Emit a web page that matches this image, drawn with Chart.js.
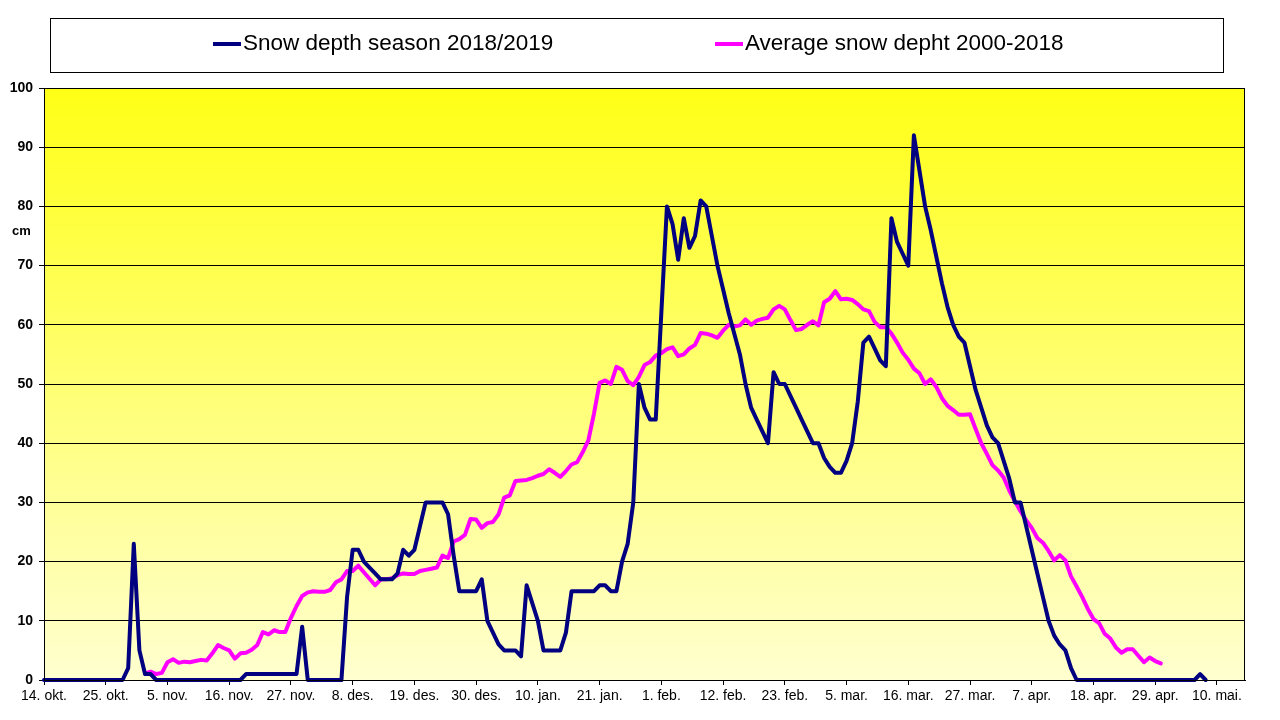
<!DOCTYPE html>
<html>
<head>
<meta charset="utf-8">
<title>Snow depth 2018/2019</title>
<script src="https://cdn.jsdelivr.net/npm/chart.js@4.4.1/dist/chart.umd.min.js"></script>
<style>
  html, body { margin: 0; padding: 0; background: #fff; }
  #snowChart { display: block; }
</style>
</head>
<body>
<canvas id="snowChart" width="1280" height="720"></canvas>
<script>
/*
  Snow depth season 2018/2019 vs. average 2000-2018.
  One value per day, day 0 = 14. okt. (leap-year calendar, ticks every 11 days).
*/
const tickLabels = [
  "14. okt.", "25. okt.", "5. nov.", "16. nov.", "27. nov.", "8. des.", "19. des.",
  "30. des.", "10. jan.", "21. jan.", "1. feb.", "12. feb.", "23. feb.", "5. mar.",
  "16. mar.", "27. mar.", "7. apr.", "18. apr.", "29. apr.", "10. mai.",
];
const tickEvery = 11;
const lastDay = 214;

const seriesLabels = ["Snow depth season 2018/2019", "Average snow depht 2000-2018"];

// cm, from 14. okt.
const snowDepth2019 = [
  0, 0, 0, 0, 0, 0, 0, 0, 0, 0,
  0, 0, 0, 0, 0, 2, 23, 5, 1, 1,
  0, 0, 0, 0, 0, 0, 0, 0, 0, 0,
  0, 0, 0, 0, 0, 0, 1, 1, 1, 1,
  1, 1, 1, 1, 1, 1, 9, 0, 0, 0,
  0, 0, 0, 0, 14, 22, 22, 20, 19, 18,
  17, 17, 17, 18, 22, 21, 22, 26, 30, 30,
  30, 30, 28, 21, 15, 15, 15, 15, 17, 10,
  8, 6, 5, 5, 5, 4, 16, 13, 10, 5,
  5, 5, 5, 8, 15, 15, 15, 15, 15, 16,
  16, 15, 15, 20, 23, 30, 50, 46, 44, 44,
  62, 80, 77, 71, 78, 73, 75, 81, 80, 75,
  70, 66, 62, 58.5, 55, 50, 46, 44, 42, 40,
  52, 50, 50, 48, 46, 44, 42, 40, 40, 37.5,
  36, 35, 35, 37, 40, 47, 57, 58, 56, 54,
  53, 78, 74, 72, 70, 92, 86, 80, 76, 71.5,
  67, 63, 60, 58, 57, 53, 49, 46, 43, 41,
  40, 37, 34, 30, 30, 26, 22, 18, 14, 10,
  7.5, 6, 5, 2, 0, 0, 0, 0, 0, 0,
  0, 0, 0, 0, 0, 0, 0, 0, 0, 0,
  0, 0, 0, 0, 0, 0, 1, 0,
];

// cm, average series starts on day 18 (1. nov.)
const averageStartDay = 18;
const averageDepth = [
  1.1, 1.4, 1.0, 1.2, 3.0, 3.5, 2.9, 3.1, 3.0, 3.2,
  3.4, 3.3, 4.5, 5.9, 5.4, 5.0, 3.6, 4.5, 4.6, 5.1,
  5.9, 8.1, 7.7, 8.4, 8.1, 8.1, 10.5, 12.5, 14.2, 14.8,
  15, 14.9, 14.9, 15.2, 16.5, 17, 18.4, 18.4, 19.3, 18.2,
  17.1, 16, 17, 17, 17.2, 17.7, 18, 17.9, 17.9, 18.4,
  18.6, 18.8, 19, 21, 20.6, 23.4, 23.8, 24.5, 27.2, 27.1,
  25.7, 26.5, 26.7, 28, 30.8, 31.2, 33.6, 33.7, 33.8, 34.1,
  34.5, 34.8, 35.6, 35, 34.3, 35.3, 36.4, 36.8, 38.5, 40.5,
  45, 50.2, 50.6, 50, 52.9, 52.4, 50.5, 49.8, 51.2, 53.2,
  53.7, 54.8, 55.2, 55.9, 56.2, 54.7, 55, 56, 56.6, 58.6,
  58.5, 58.2, 57.8, 59, 60, 59.7, 59.9, 60.9, 60, 60.7,
  61, 61.2, 62.6, 63.2, 62.6, 60.8, 59.1, 59.3, 60, 60.6,
  59.9, 63.8, 64.4, 65.7, 64.3, 64.4, 64.2, 63.5, 62.6, 62.3,
  60.5, 59.6, 59.6, 58.5, 57, 55.3, 54.1, 52.6, 51.8, 50,
  50.8, 49.5, 47.6, 46.3, 45.6, 44.8, 44.8, 44.9, 42.4, 40,
  38.2, 36.3, 35.4, 34.2, 32, 30.2, 28.5, 27, 25.7, 24,
  23.2, 21.8, 20.2, 21.1, 20.2, 17.5, 15.8, 14, 12, 10.3,
  9.6, 7.8, 7, 5.5, 4.6, 5.2, 5.2, 4.1, 3, 3.8,
  3.2, 2.8,
];

const FONT = "'Liberation Sans', Arial, sans-serif";

// Yellow gradient behind the plot plus the black frame around it.
const plotBackground = {
  id: "plotBackground",
  beforeDraw(chart) {
    const { ctx, chartArea: a } = chart;
    const g = ctx.createLinearGradient(0, a.top, 0, a.bottom);
    g.addColorStop(0, "rgb(255,255,22)");
    g.addColorStop(1, "rgb(255,255,208)");
    ctx.save();
    ctx.fillStyle = g;
    ctx.fillRect(a.left, a.top, a.right - a.left, a.bottom - a.top);
    ctx.restore();
  },
  afterDraw(chart) {
    const { ctx, chartArea: a } = chart;
    ctx.save();
    ctx.strokeStyle = "#000";
    ctx.lineWidth = 1;
    ctx.strokeRect(a.left + 0.5, a.top + 0.5, a.right - a.left - 1, a.bottom - a.top);
    // axis unit
    ctx.fillStyle = "#000";
    ctx.font = `bold 13px ${FONT}`;
    ctx.textBaseline = "middle";
    ctx.fillText("cm", 12, 231);
    ctx.restore();
  },
};

// Boxed legend across the top, like the spreadsheet original.
const boxLegend = {
  id: "boxLegend",
  afterDraw(chart) {
    const { ctx } = chart;
    const itemX = [213, 715];
    ctx.save();
    ctx.fillStyle = "#fff";
    ctx.fillRect(50, 18, 1173, 54);
    ctx.strokeStyle = "#000";
    ctx.lineWidth = 1;
    ctx.strokeRect(50.5, 18.5, 1173, 54);
    ctx.font = `22.5px ${FONT}`;
    ctx.textBaseline = "middle";
    chart.data.datasets.forEach((ds, i) => {
      ctx.strokeStyle = ds.borderColor;
      ctx.lineWidth = 4;
      ctx.beginPath();
      ctx.moveTo(itemX[i], 44);
      ctx.lineTo(itemX[i] + 28, 44);
      ctx.stroke();
      ctx.fillStyle = "#000";
      ctx.fillText(ds.label, itemX[i] + 30, 44);
    });
    ctx.restore();
  },
};

new Chart(document.getElementById("snowChart"), {
  type: "line",
  data: {
    datasets: [
      {
        label: seriesLabels[0],
        data: snowDepth2019.map((v, i) => ({ x: i, y: v })),
        borderColor: "#000080",
        borderWidth: 4,
        pointRadius: 0,
        tension: 0,
        borderJoinStyle: "round",
        borderCapStyle: "round",
        clip: 6,
        order: 1,
      },
      {
        label: seriesLabels[1],
        data: averageDepth.map((v, i) => ({ x: i + averageStartDay, y: v })),
        borderColor: "#ff00ff",
        borderWidth: 4,
        pointRadius: 0,
        tension: 0,
        borderJoinStyle: "round",
        borderCapStyle: "round",
        clip: 6,
        order: 2,
      },
    ],
  },
  options: {
    responsive: false,
    animation: false,
    devicePixelRatio: 1,
    layout: { padding: { top: 88, right: 35, bottom: 0, left: 0 } },
    plugins: {
      legend: { display: false },
      tooltip: { enabled: false },
    },
    scales: {
      x: {
        type: "linear",
        min: 0,
        max: lastDay,
        afterBuildTicks: (scale) => {
          scale.ticks = tickLabels.map((_, i) => ({ value: i * tickEvery }));
        },
        afterFit: (scale) => {
          scale.height = 40;
        },
        ticks: {
          autoSkip: false,
          maxRotation: 0,
          padding: 3,
          color: "#000",
          font: { family: FONT, size: 14 },
          callback: (value) => tickLabels[Math.round(value / tickEvery)],
        },
        grid: { drawOnChartArea: false, drawTicks: true, tickLength: 5, color: "#000" },
        border: { color: "#000" },
      },
      y: {
        min: 0,
        max: 100,
        afterFit: (scale) => {
          scale.width = 44;
        },
        ticks: {
          stepSize: 10,
          padding: 6,
          color: "#000",
          font: { family: FONT, size: 14, weight: "bold" },
        },
        grid: { color: "#000", lineWidth: 1, tickLength: 5 },
        border: { color: "#000" },
      },
    },
  },
  plugins: [plotBackground, boxLegend],
});
</script>
</body>
</html>
